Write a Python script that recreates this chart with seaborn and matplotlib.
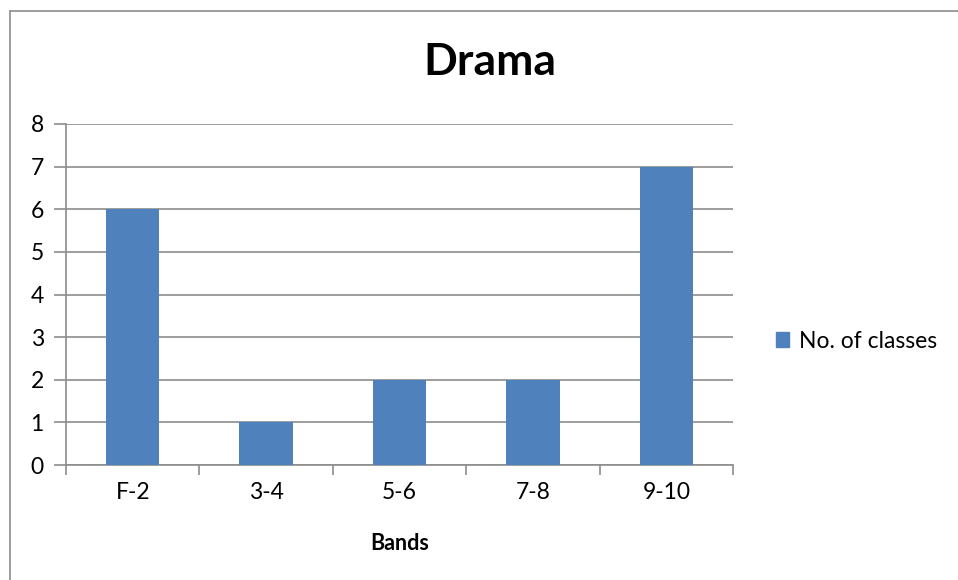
import matplotlib
matplotlib.use("Agg")
import matplotlib.pyplot as plt
from matplotlib.lines import Line2D
import seaborn as sns
import pandas as pd

bands = ["F-2", "3-4", "5-6", "7-8", "9-10"]
classes = [6, 1, 2, 2, 7]
y_ticks = [0, 1, 2, 3, 4, 5, 6, 7, 8]
series_name = "No. of classes"

sns.set_theme(style="white")
plt.rcParams["font.family"] = ["Lato", "DejaVu Sans"]
plt.rcParams["text.color"] = "black"

bar_color = "#4F81BD"
grid_color = "#8C8C8C"

df = pd.DataFrame({"Bands": bands, series_name: classes})

fig = plt.figure(figsize=(9.58, 5.8), dpi=100)
ax = fig.add_axes([66 / 958, 1 - 465 / 580, (733 - 66) / 958, (465 - 124) / 580])

sns.barplot(data=df, x="Bands", y=series_name, color=bar_color, width=0.4,
            saturation=1, ax=ax, zorder=3, linewidth=0, edgecolor="none")

ax.set_ylim(0, 8)
ax.set_xlim(-0.5, len(bands) - 0.5)
ax.set_yticks(y_ticks)
ax.yaxis.grid(True, color=grid_color, linewidth=1.2, zorder=0)
ax.set_axisbelow(True)

for side in ["top", "right"]:
    ax.spines[side].set_visible(False)
for side in ["left", "bottom"]:
    ax.spines[side].set_color(grid_color)
    ax.spines[side].set_linewidth(1.2)

ax.tick_params(axis="y", direction="out", length=9, width=1.2, color=grid_color,
               left=True, labelsize=16.5, pad=7, labelcolor="black")
# category boundary ticks on the x axis
ax.set_xticks([i - 0.5 for i in range(len(bands) + 1)], minor=True)
ax.tick_params(axis="x", which="minor", direction="out", length=7, width=1.2,
               color=grid_color, bottom=True)
ax.tick_params(axis="x", which="major", length=0, labelsize=16.5, pad=12,
               labelcolor="black")

ax.set_xlabel("Bands", fontsize=15.5, fontweight="bold", labelpad=22,
              color="black")
ax.set_ylabel("")

fig.text(490 / 958, 1 - 62 / 580, "Drama", ha="center", va="center",
         fontsize=32, fontweight="bold", color="black")

handles = [plt.Rectangle((0, 0), 1, 1, color=bar_color)]
fig.legend(handles, [series_name], loc="center left",
           bbox_to_anchor=(755 / 958, 1 - 341 / 580), frameon=False,
           fontsize=16.5, handlelength=0.6, handleheight=0.6, handletextpad=0.4)

# outer chart border
fig.add_artist(Line2D([10 / 958, 10 / 958], [0, 1 - 11 / 580],
                      transform=fig.transFigure, color=grid_color, lw=1.2))
fig.add_artist(Line2D([10 / 958, 1], [1 - 11 / 580, 1 - 11 / 580],
                      transform=fig.transFigure, color=grid_color, lw=1.2))

fig.savefig("out.png", dpi=100, facecolor="white")
